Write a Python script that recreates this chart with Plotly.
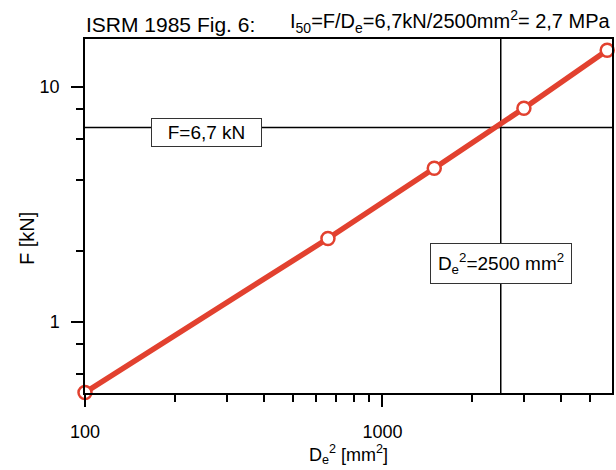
import math
import plotly.graph_objects as go

# Data
de2 = [100, 656, 1494, 2991, 5700]          # De^2 [mm^2]
force = [0.5, 2.26, 4.5, 8.1, 14.3]         # F [kN]
F_REF = 6.7
DE2_REF = 2500
x_major = [100, 1000]
x_major_text = ["100", "1000"]
x_minor = [200, 300, 400, 500, 600, 700, 800, 900, 2000, 3000, 4000, 5000]
y_major = [1, 10]
y_major_text = ["1", "10"]
y_minor = [0.6, 0.8, 2, 4, 6, 8]

RED = "#e2412f"
FONT = "Liberation Sans, Arial, sans-serif"

fig = go.Figure()

fig.add_trace(go.Scatter(
    x=de2, y=force, mode="lines+markers",
    line=dict(color=RED, width=5.5),
    marker=dict(symbol="circle", size=13, color="white",
                line=dict(color=RED, width=2.5)),
    cliponaxis=False, showlegend=False, hoverinfo="skip",
))

fig.add_shape(type="line", xref="paper", yref="y", x0=0, x1=1, y0=F_REF, y1=F_REF,
              line=dict(color="black", width=1.5), layer="below")
fig.add_shape(type="line", xref="x", yref="paper", x0=DE2_REF, x1=DE2_REF, y0=0, y1=1,
              line=dict(color="black", width=1.5), layer="below")

axis_common = dict(
    showline=True, linecolor="black", linewidth=1.5, mirror=True,
    ticks="outside", ticklen=12, tickwidth=1.5, tickcolor="black",
    showgrid=False, zeroline=False,
    tickfont=dict(family=FONT, size=18, color="black"),
)

fig.update_layout(
    width=616, height=470,
    margin=dict(l=85, r=2, t=39, b=77),
    paper_bgcolor="white", plot_bgcolor="white",
    xaxis=dict(type="log", range=[2, 3.772], tickmode="array",
               tickvals=x_major, ticktext=x_major_text, ticklabelstandoff=10,
               minor=dict(tickmode="array", tickvals=x_minor, ticks="outside",
                          ticklen=7, tickwidth=1.5, tickcolor="black", showgrid=False),
               **axis_common),
    yaxis=dict(type="log", range=[-0.3034, 1.203], tickmode="array",
               tickvals=y_major, ticktext=y_major_text, ticklabelstandoff=8,
               minor=dict(tickmode="array", tickvals=y_minor, ticks="outside",
                          ticklen=7, tickwidth=1.5, tickcolor="black", showgrid=False),
               **axis_common),
    font=dict(family=FONT, color="black"),
)

annotations = [
    dict(text="ISRM 1985 Fig. 6:", xref="paper", yref="paper", x=-0.002, y=1.0,
         xanchor="left", yanchor="bottom", yshift=1, showarrow=False,
         font=dict(family=FONT, size=21, color="black")),
    dict(text="I<sub>50</sub>=F/D<sub>e</sub>=6,7kN/2500mm<sup>2</sup>= 2,7 MPa",
         xref="paper", yref="paper", x=1.002, y=1.0,
         xanchor="right", yanchor="bottom", yshift=1, showarrow=False,
         font=dict(family=FONT, size=20, color="black")),
    dict(text="F=6,7 kN", xref="paper", yref="paper", x=0.2306, y=0.737,
         xanchor="center", yanchor="middle", showarrow=False,
         width=107, height=25, borderpad=1, borderwidth=1, bordercolor="#333",
         bgcolor="white", font=dict(family=FONT, size=19, color="black")),
    dict(text="D<sub>e</sub><sup>2</sup>=2500 mm<sup>2</sup>", xref="x", yref="paper",
         x=math.log10(DE2_REF), y=0.367,
         xanchor="center", yanchor="middle", showarrow=False,
         width=136, height=35, borderpad=2, borderwidth=1, bordercolor="#333",
         bgcolor="white", font=dict(family=FONT, size=19, color="black")),
    dict(text="D<sub>e</sub><sup>2</sup> [mm<sup>2</sup>]", xref="paper", yref="paper",
         x=0.5, y=-0.2147, xanchor="center", yanchor="bottom", showarrow=False,
         font=dict(family=FONT, size=18, color="black")),
    dict(text="F [kN]", xref="paper", yref="paper", x=-0.11, y=0.435,
         xanchor="center", yanchor="middle", showarrow=False, textangle=-90,
         font=dict(family=FONT, size=20, color="black")),
]
fig.update_layout(annotations=annotations)

fig.write_html("out.html")
